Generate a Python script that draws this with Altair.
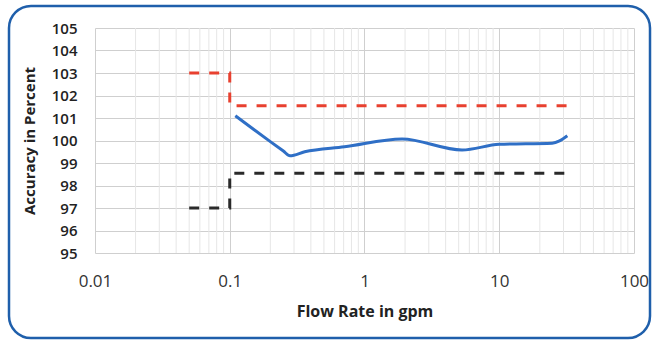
import altair as alt
import pandas as pd

# Data
blue_x = [0.11, 0.15, 0.2, 0.25, 0.28, 0.36, 0.71, 1.9, 5.3, 10, 24.7, 28, 32]
blue_y = [101.1, 100.5, 99.95, 99.53, 99.32, 99.5, 99.72, 100.07, 99.58, 99.83, 99.88, 99.98, 100.21]

red_x = [0.05, 0.1, 0.1, 36]
red_y = [103.0, 103.0, 101.55, 101.55]

black_x = [0.05, 0.1, 0.1, 36]
black_y = [97.0, 97.0, 98.55, 98.55]

x_ticks = [0.01, 0.1, 1, 10, 100]
y_ticks = [95, 96, 97, 98, 99, 100, 101, 102, 103, 104, 105]
minor_mult = [2, 3, 4, 5, 6, 7, 8, 9]

minor_x = [m * d for d in [0.01, 0.1, 1, 10] for m in minor_mult]

W, H = 539, 225

xscale = alt.Scale(type="log", domain=[0.01, 100], nice=False)
yscale = alt.Scale(domain=[95, 105], nice=False, zero=False)

xaxis = alt.Axis(values=x_ticks, format="~g", title="Flow Rate in gpm",
                 grid=True, gridColor="#cfcfcf", domain=False, ticks=False,
                 labelPadding=20, titlePadding=14, labelOverlap=False,
                 labelFlush=False, labelFontSize=17, labelColor="#333",
                 titleFontSize=16)
yaxis = alt.Axis(values=y_ticks, title="Accuracy in Percent",
                 grid=True, gridColor="#cfcfcf", domain=False, ticks=False,
                 labelPadding=18, titlePadding=14, labelOverlap=False,
                 labelFlush=False, labelFontSize=15, labelFontWeight=600,
                 labelBound=False, titleFontSize=15)

df_blue = pd.DataFrame({"x": blue_x, "y": blue_y, "i": range(len(blue_x))})
blue = alt.Chart(df_blue).mark_line(
    color="#2f6fc6", strokeWidth=3, interpolate="monotone"
).encode(
    x=alt.X("x:Q", scale=xscale, axis=xaxis),
    y=alt.Y("y:Q", scale=yscale, axis=yaxis),
    order="i:Q",
)

df_minor = pd.DataFrame({"x": minor_x})
minor = alt.Chart(df_minor).mark_rule(color="#e6e6e6", strokeWidth=1).encode(
    x=alt.X("x:Q", scale=xscale, axis=xaxis),
    y=alt.value(0), y2=alt.value(H),
)

df_red = pd.DataFrame({"x": red_x, "y": red_y, "i": range(len(red_x))})
red = alt.Chart(df_red).mark_line(
    color="#e8402f", strokeWidth=3, strokeDash=[10, 10]
).encode(
    x=alt.X("x:Q", scale=xscale, axis=xaxis), y=alt.Y("y:Q", scale=yscale, axis=yaxis), order="i:Q"
)

df_black = pd.DataFrame({"x": black_x, "y": black_y, "i": range(len(black_x))})
black = alt.Chart(df_black).mark_line(
    color="#2a2a2a", strokeWidth=3, strokeDash=[10, 10]
).encode(
    x=alt.X("x:Q", scale=xscale, axis=xaxis), y=alt.Y("y:Q", scale=yscale, axis=yaxis), order="i:Q"
)

border = alt.Chart(pd.DataFrame({"a": [0]})).mark_rect(
    filled=False, stroke="#1f5fab", strokeWidth=2.5, cornerRadius=22
).encode(
    x=alt.value(-86), x2=alt.value(555), y=alt.value(-22), y2=alt.value(310)
)

chart = alt.layer(minor, blue, red, black, border).properties(
    width=W, height=H,
    autosize=alt.AutoSizeParams(type="none"),
    padding={"left": 95, "top": 28, "right": 19, "bottom": 89},
    background="white",
).configure_view(stroke=None).configure_axis(
    labelFont="Open Sans", titleFont="Open Sans",
    labelColor="#222", titleColor="#222", titleFontWeight="bold",
)

chart.save("out.html", embed_options={"renderer": "svg", "actions": False})
